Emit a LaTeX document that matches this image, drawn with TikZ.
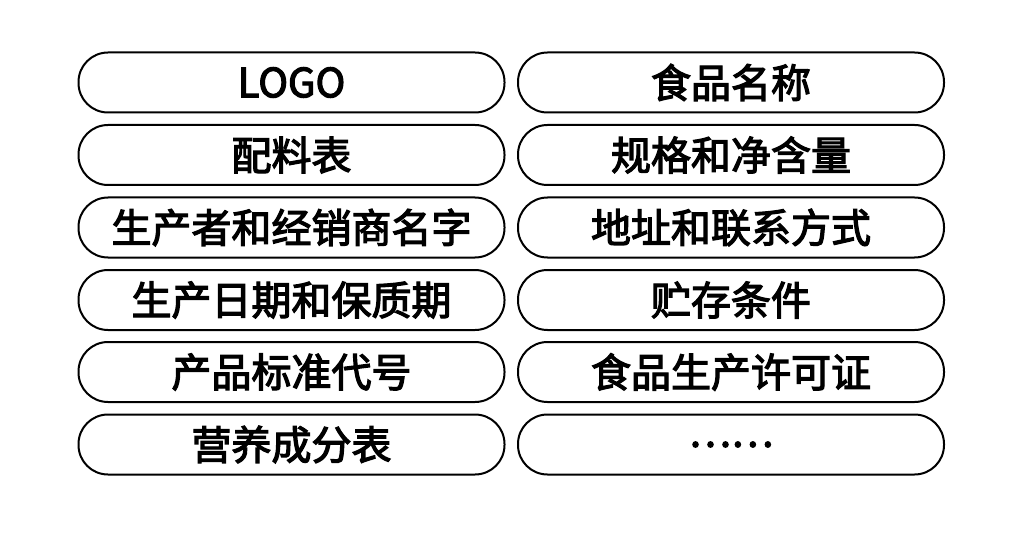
\documentclass[tikz,border=0pt]{standalone}
\usepackage{fontspec}
\newfontfamily\cjk[FakeBold=3]{Noto Sans CJK SC}
\tikzset{
    pill/.style={draw, line width=2pt, rounded corners=29.5pt, minimum width=426pt,
        minimum height=60pt, inner sep=0pt, font=\cjk\fontsize{40}{44}\selectfont}
}
\begin{document}
\begin{tikzpicture}[x=1pt, y=-1pt]
        \useasboundingbox (0,0) rectangle (1024,545);
        \node [pill] (logo) at (291.5,82.5) {LOGO};
        \node [pill] (name) at (731,82.5) {食品名称};
        \node [pill] (ingr) at (291.5,155) {配料表};
        \node [pill] (spec) at (731,155) {规格和净含量};
        \node [pill] (prod) at (291.5,227.5) {生产者和经销商名字};
        \node [pill] (addr) at (731,227.5) {地址和联系方式};
        \node [pill] (date) at (291.5,300) {生产日期和保质期};
        \node [pill] (stor) at (731,300) {贮存条件};
        \node [pill] (stnd) at (291.5,372) {产品标准代号};
        \node [pill] (lic) at (731,372) {食品生产许可证};
        \node [pill] (nutr) at (291.5,444.5) {营养成分表};
        \node [pill] (more) at (731,444.5) {……};
    \end{tikzpicture}
\end{document}
